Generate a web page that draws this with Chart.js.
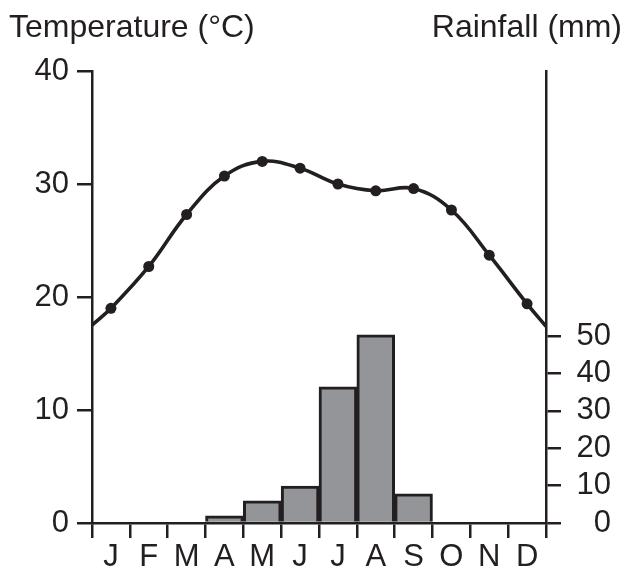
<!DOCTYPE html>
<html>
<head>
<meta charset="utf-8">
<script src="https://cdn.jsdelivr.net/npm/chart.js@4"></script>
<style>
  html, body { margin: 0; padding: 0; background: #fff; }
</style>
</head>
<body>
<canvas id="climateChart" width="643" height="570"></canvas>
<script>
// —————— DATA ——————
const months = ['J', 'F', 'M', 'A', 'M', 'J', 'J', 'A', 'S', 'O', 'N', 'D'];
const temperature = [19.0, 22.7, 27.3, 30.7, 32.0, 31.4, 30.0, 29.4, 29.6, 27.7, 23.7, 19.4];
const tempEdges = [17.5, 17.4]; // where the curve meets the left / right axis
const rainfall = [0, 0, 0, 1.9, 5.9, 9.9, 36.4, 50.3, 7.8, 0, 0, 0];
const tempTicks = [0, 10, 20, 30, 40];
const rainTicks = [0, 10, 20, 30, 40, 50];

const ink = '#231f20';
const fontFamily = '"Liberation Sans", Arial, Helvetica, sans-serif';

// line sits on a hidden linear axis so it can run edge to edge
const tempPoints = [{ x: 0, y: tempEdges[0] }]
  .concat(temperature.map((t, i) => ({ x: i + 0.5, y: t })))
  .concat([{ x: months.length, y: tempEdges[1] }]);
const tempRadius = tempPoints.map((p, i) => (i === 0 || i === tempPoints.length - 1) ? 0 : 5.5);

const axisTitles = {
  id: 'axisTitles',
  afterDraw(chart) {
    const c = chart.ctx;
    c.save();
    c.fillStyle = ink;
    c.font = '32px ' + fontFamily;
    c.textBaseline = 'alphabetic';
    c.textAlign = 'left';
    c.fillText('Temperature (°C)', 9, 37);
    c.textAlign = 'right';
    c.fillText('Rainfall (mm)', 622, 37);
    c.restore();
  }
};

const tickFont = { family: fontFamily, size: 31 };

new Chart(document.getElementById('climateChart'), {
  data: {
    labels: months,
    datasets: [
      {
        type: 'line',
        label: 'Temperature',
        data: tempPoints,
        xAxisID: 'x2',
        yAxisID: 'y',
        borderColor: ink,
        borderWidth: 3.6,
        pointRadius: tempRadius,
        pointBackgroundColor: ink,
        pointBorderWidth: 0,
        tension: 0.4,
        fill: false,
        order: 0
      },
      {
        type: 'bar',
        label: 'Rainfall',
        data: rainfall,
        xAxisID: 'x',
        yAxisID: 'y2',
        backgroundColor: '#939598',
        borderColor: ink,
        borderWidth: 3,
        borderSkipped: 'bottom',
        grouped: false, // otherwise the line counts as a second slot and halves the bars
        barPercentage: 1,
        categoryPercentage: 1,
        order: 1
      }
    ]
  },
  options: {
    responsive: false,
    animation: false,
    layout: { padding: { top: 71, right: 32 } },
    plugins: {
      legend: { display: false },
      tooltip: { enabled: false }
    },
    scales: {
      x: {
        type: 'category',
        position: 'bottom',
        offset: true,
        afterFit: s => { s.height = 47; },
        border: { display: true, color: ink, width: 2.5 },
        grid: { offset: true, drawOnChartArea: false, drawTicks: true, tickLength: 15, color: ink, lineWidth: 2.5 },
        ticks: { color: ink, font: tickFont, padding: 1, maxRotation: 0, autoSkip: false }
      },
      x2: {
        type: 'linear',
        display: false,
        min: 0,
        max: months.length
      },
      y: {
        position: 'left',
        min: 0,
        max: 40,
        afterFit: s => { s.width = 92; },
        afterBuildTicks: s => { s.ticks = tempTicks.map(v => ({ value: v })); },
        border: { display: true, color: ink, width: 2.5 },
        grid: { drawOnChartArea: false, drawTicks: true, tickLength: 15, color: ink, lineWidth: 2.5 },
        ticks: { color: ink, font: tickFont, padding: 8 }
      },
      y2: {
        position: 'right',
        min: 0,
        max: 120.9,
        afterFit: s => { s.width = 65; },
        afterBuildTicks: s => { s.ticks = rainTicks.map(v => ({ value: v })); },
        border: { display: true, color: ink, width: 2.5 },
        grid: { drawOnChartArea: false, drawTicks: true, tickLength: 15, color: ink, lineWidth: 2.5 },
        ticks: { color: ink, font: tickFont, padding: 10, crossAlign: 'far' }
      }
    }
  },
  plugins: [axisTitles]
});
</script>
</body>
</html>
